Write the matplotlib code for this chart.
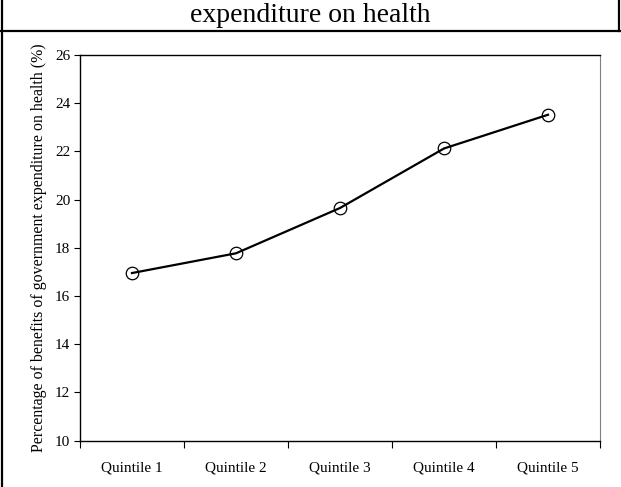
import matplotlib
matplotlib.use('Agg')
import matplotlib.pyplot as plt
from matplotlib.lines import Line2D

#data
quintiles = ['Quintile 1', 'Quintile 2', 'Quintile 3', 'Quintile 4', 'Quintile 5']
benefits = [16.95, 17.77, 19.65, 22.12, 23.52]
yticks = [10, 12, 14, 16, 18, 20, 22, 24, 26]

plt.rcParams['font.family'] = ['Liberation Serif', 'DejaVu Serif']

fig = plt.figure(figsize=(6.21, 4.87), dpi=100)
ax = fig.add_axes([80/621, 46.5/487, 520/621, 385.5/487])

xs = list(range(1, len(quintiles) + 1))
ax.plot(xs, benefits, color='black', linewidth=1.6, marker='o', markersize=9,
        markerfacecolor='none', markeredgecolor='black', markeredgewidth=0.9)

ax.set_xlim(0.5, len(quintiles) + 0.5)
ax.set_ylim(10, 26)
ax.set_yticks(yticks)
ax.set_yticklabels([str(t) for t in yticks], fontsize=11)

#ticks sit between categories, labels at the centres
ax.set_xticks([x + 0.5 for x in range(len(quintiles) + 1)])
ax.set_xticklabels([])
ax.set_xticks(xs, minor=True)
ax.set_xticklabels(quintiles, minor=True, fontsize=11)
ax.tick_params(axis='x', which='major', direction='out', length=5, width=0.8)
ax.tick_params(axis='x', which='minor', length=0, pad=15)
ax.tick_params(axis='y', direction='out', length=4, width=0.8, pad=3)

ax.spines['right'].set_color('#808080')
for s in ['left', 'bottom', 'top']:
    ax.spines[s].set_linewidth(1.0)

ax.set_ylabel('Percentage of benefits of government expenditure on health (%)', fontsize=11.4, labelpad=6)

fig.text(310/621, 1 - 16/487, 'expenditure on health', ha='center', va='center', fontsize=20)

#frame around the figure
fig.add_artist(Line2D([0, 1], [1 - 31/487, 1 - 31/487], color='black', linewidth=1.6, transform=fig.transFigure))
fig.add_artist(Line2D([1.5/621, 1.5/621], [0, 1], color='black', linewidth=1.6, transform=fig.transFigure))
fig.add_artist(Line2D([619/621, 619/621], [1 - 31/487, 1], color='black', linewidth=1.6, transform=fig.transFigure))

fig.savefig('out.png', dpi=100)
